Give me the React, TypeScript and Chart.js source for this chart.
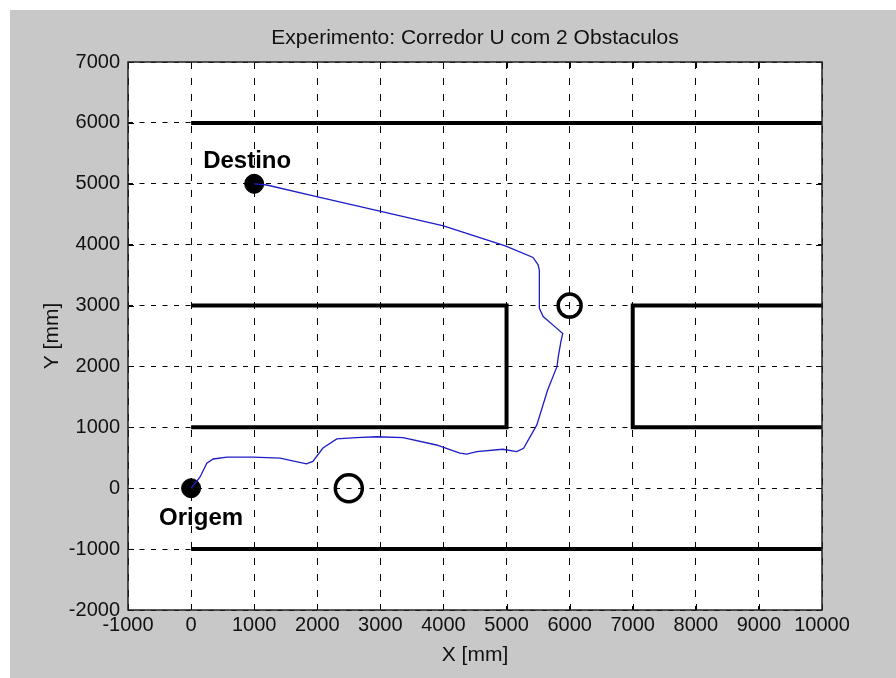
import React, { useEffect, useRef } from "react";
import { Chart, registerables } from "chart.js";
Chart.register(...registerables);

const TITLE = "Experimento: Corredor U com 2 Obstaculos";
const X_LABEL = "X [mm]";
const Y_LABEL = "Y [mm]";
const X_MIN = -1000;
const X_MAX = 10000;
const Y_MIN = -2000;
const Y_MAX = 7000;
const STEP = 1000;

// robot trajectory (mm), from Origem to Destino
const pathX = [0, 140, 250, 350, 570, 980, 1410, 1830, 1930, 2090, 2310, 2620, 2940, 3360, 3890, 4260, 4370, 4530, 4940, 5160, 5270, 5480, 5650, 5800, 5820, 5860, 5890, 5770, 5580, 5520, 5520, 5520, 5500, 5420, 4980, 4000, 2990, 1990, 1200, 1000];
const pathY = [0, 180, 410, 480, 510, 510, 495, 400, 440, 660, 810, 830, 845, 830, 710, 575, 560, 600, 640, 600, 655, 1040, 1610, 2000, 2160, 2400, 2540, 2650, 2820, 2955, 3040, 3580, 3670, 3790, 3980, 4310, 4550, 4790, 4980, 5000];

// corridor walls
const wallTopX = [0, 10000];
const wallTopY = [6000, 6000];
const wallBottomX = [0, 10000];
const wallBottomY = [-1000, -1000];
const blockLeftX = [0, 5000, 5000, 0];
const blockLeftY = [3000, 3000, 1000, 1000];
const blockRightX = [10000, 7000, 7000, 10000];
const blockRightY = [3000, 3000, 1000, 1000];

// obstacles
const obstacleX = [2500, 6000];
const obstacleY = [0, 3000];

// start / goal
const endpointNames = ["Origem", "Destino"];
const endpointX = [0, 1000];
const endpointY = [0, 5000];

const pts = (xs: number[], ys: number[]) => xs.map((x, i) => ({ x, y: ys[i] }));

const FONT = "'Liberation Sans', Arial, sans-serif";

const bgPlugin = {
  id: "bg",
  beforeDraw(chart: any) {
    const { ctx, width, height, chartArea } = chart;
    ctx.save();
    ctx.fillStyle = "#ffffff";
    ctx.fillRect(0, 0, width, height);
    ctx.fillStyle = "#c8c8c8";
    ctx.fillRect(10, 10, width - 10, height - 10);
    ctx.fillStyle = "#ffffff";
    ctx.fillRect(chartArea.left, chartArea.top, chartArea.right - chartArea.left, chartArea.bottom - chartArea.top);
    ctx.restore();
  },
};

const labelOffsets: Record<string, [number, number]> = {
  Origem: [10, 37],
  Destino: [-7, -15.5],
};

const annotPlugin = {
  id: "annot",
  afterDatasetsDraw(chart: any) {
    const { ctx } = chart;
    const idx = chart.data.datasets.findIndex((d: any) => d.label === "endpoints");
    const meta = chart.getDatasetMeta(idx);
    ctx.save();
    ctx.font = `bold 24px ${FONT}`;
    ctx.fillStyle = "#000";
    ctx.textAlign = "center";
    ctx.textBaseline = "alphabetic";
    meta.data.forEach((el: any, i: number) => {
      const name = endpointNames[i];
      const [dx, dy] = labelOffsets[name];
      ctx.fillText(name, el.x + dx, el.y + dy);
    });
    ctx.restore();
  },
  afterDraw(chart: any) {
    const { ctx, chartArea: a, scales } = chart;
    ctx.save();
    ctx.strokeStyle = "#000";
    ctx.lineWidth = 1;
    ctx.beginPath();
    const tl = 6;
    scales.x.ticks.forEach((t: any) => {
      const px = Math.round(scales.x.getPixelForValue(t.value)) + 0.5;
      ctx.moveTo(px, a.bottom);
      ctx.lineTo(px, a.bottom - tl);
      ctx.moveTo(px, a.top);
      ctx.lineTo(px, a.top + tl);
    });
    scales.y.ticks.forEach((t: any) => {
      const py = Math.round(scales.y.getPixelForValue(t.value)) + 0.5;
      ctx.moveTo(a.left, py);
      ctx.lineTo(a.left + tl, py);
      ctx.moveTo(a.right, py);
      ctx.lineTo(a.right - tl, py);
    });
    ctx.stroke();
    ctx.strokeStyle = "#202020";
    ctx.lineWidth = 1.5;
    ctx.strokeRect(a.left, a.top, a.right - a.left, a.bottom - a.top);
    ctx.restore();
  },
};

const wallStyle = {
  borderColor: "#000",
  borderWidth: 4,
  pointRadius: 0,
  showLine: true,
  tension: 0,
  borderCapStyle: "butt",
  borderJoinStyle: "miter",
};

export default function App() {
  const ref = useRef<HTMLCanvasElement>(null);
  useEffect(() => {
    if (!ref.current) return;
    const chart = new Chart(ref.current, {
      type: "scatter",
      data: {
        datasets: [
          { label: "wallTop", data: pts(wallTopX, wallTopY), ...wallStyle } as any,
          { label: "wallBottom", data: pts(wallBottomX, wallBottomY), ...wallStyle } as any,
          { label: "blockLeft", data: pts(blockLeftX, blockLeftY), ...wallStyle } as any,
          { label: "blockRight", data: pts(blockRightX, blockRightY), ...wallStyle } as any,
          {
            label: "path",
            data: pts(pathX, pathY),
            showLine: true,
            borderColor: "#1c1cc8",
            borderWidth: 1.3,
            pointRadius: 0,
            tension: 0,
          },
          {
            label: "obstacles",
            data: pts(obstacleX, obstacleY),
            pointRadius: [13.5, 11.5],
            pointBorderWidth: 3.5,
            pointBorderColor: "#000",
            pointBackgroundColor: "rgba(0,0,0,0)",
            showLine: false,
          },
          {
            label: "endpoints",
            data: pts(endpointX, endpointY),
            pointRadius: 9.5,
            pointBorderWidth: 1,
            pointBorderColor: "#000",
            pointBackgroundColor: "#000",
            showLine: false,
          },
        ],
      },
      options: {
        responsive: false,
        animation: false,
        devicePixelRatio: 1,
        layout: { padding: { left: 10, top: 10, right: 74, bottom: 0 } },
        plugins: {
          legend: { display: false },
          tooltip: { enabled: false },
          title: {
            display: true,
            text: TITLE,
            fullSize: false,
            color: "#111",
            font: { family: FONT, size: 21, weight: "normal", lineHeight: 1.2 },
            padding: { top: 15.4, bottom: 11.4 },
          },
        },
        scales: {
          x: {
            type: "linear",
            min: X_MIN,
            max: X_MAX,
            afterFit: (s: any) => { s.height = 68; },
            ticks: {
              stepSize: STEP,
              autoSkip: false,
              maxRotation: 0,
              padding: 3,
              color: "#111",
              font: { family: FONT, size: 20 },
              callback: (v: any) => String(v),
            },
            grid: { color: "#000", lineWidth: 1, drawTicks: false },
            border: { display: false, dash: [7, 9] },
            title: {
              display: true,
              text: X_LABEL,
              color: "#111",
              font: { family: FONT, size: 21, lineHeight: 1.2 },
              padding: { top: 0, bottom: 10.4 },
            },
          },
          y: {
            type: "linear",
            min: Y_MIN,
            max: Y_MAX,
            afterFit: (s: any) => { s.width = 118; },
            ticks: {
              stepSize: STEP,
              autoSkip: false,
              padding: 8,
              color: "#111",
              font: { family: FONT, size: 20 },
              callback: (v: any) => String(v),
            },
            grid: { color: "#000", lineWidth: 1, drawTicks: false },
            border: { display: false, dash: [5, 6.5] },
            title: {
              display: true,
              text: Y_LABEL,
              color: "#111",
              font: { family: FONT, size: 21, lineHeight: 1.2 },
              padding: { top: 29.4, bottom: 0 },
            },
          },
        },
      },
      plugins: [bgPlugin, annotPlugin],
    } as any);
    return () => chart.destroy();
  }, []);
  return (
    <div style={{ position: "fixed", left: 0, top: 0, width: 896, height: 678 }}>
      <canvas ref={ref} width={896} height={678} />
    </div>
  );
}
